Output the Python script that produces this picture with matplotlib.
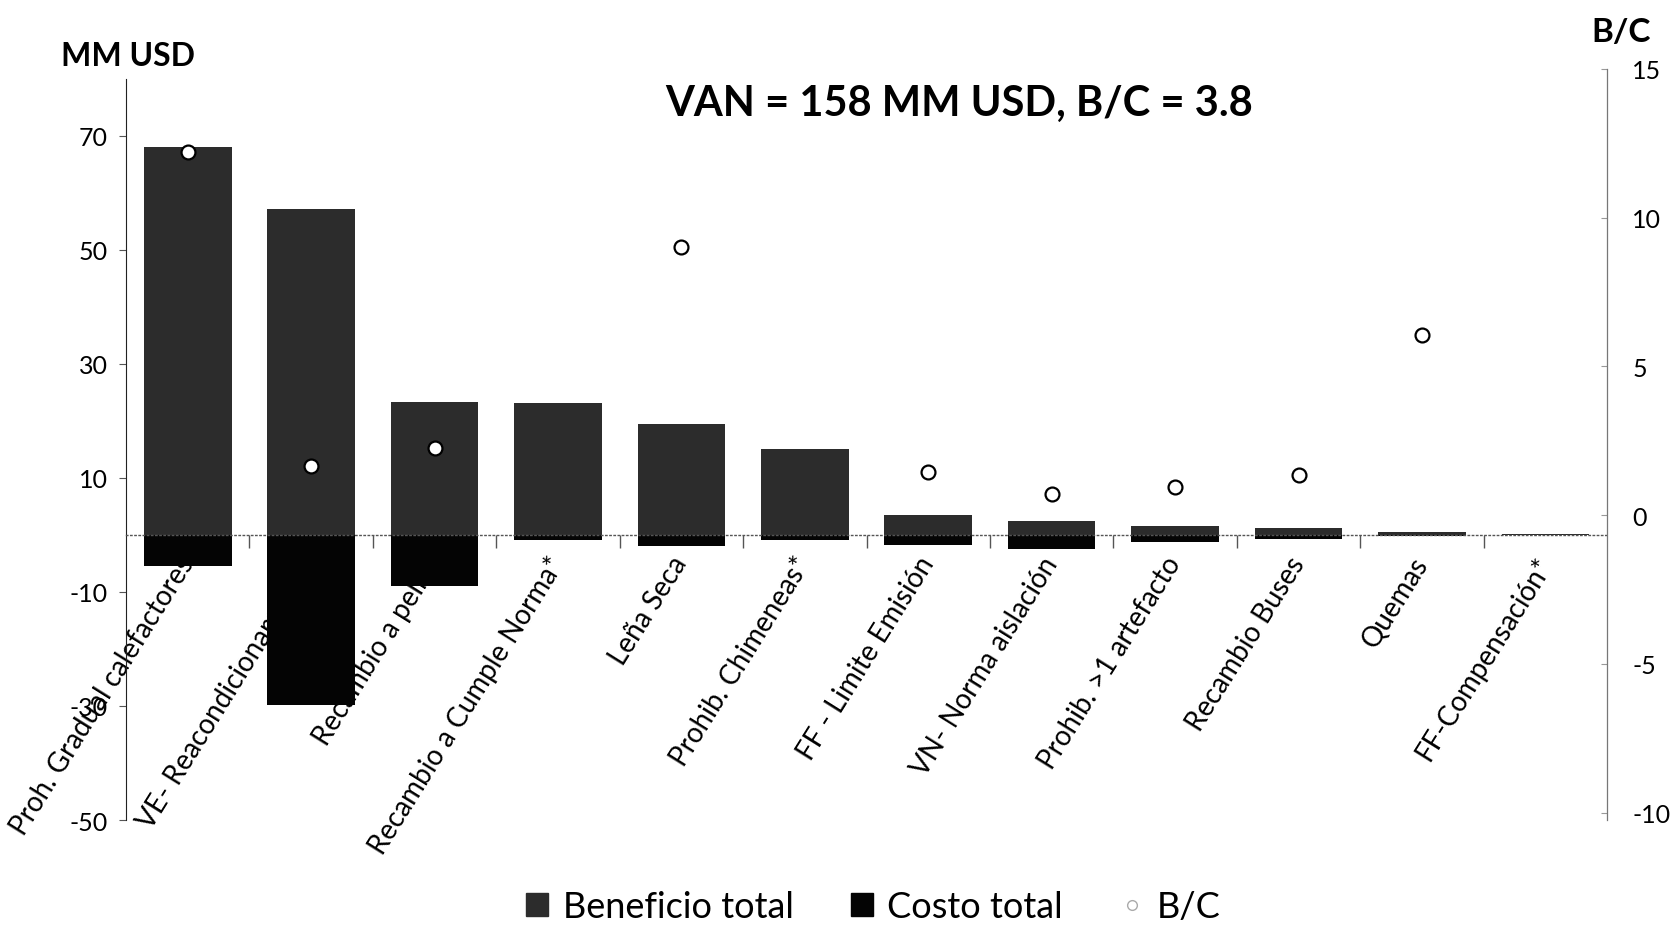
import numpy as np
import matplotlib.pyplot as plt
from matplotlib.patches import Patch
from matplotlib.lines import Line2D

plt.rcParams['font.family'] = ['Lato', 'DejaVu Sans']
plt.rcParams['axes.unicode_minus'] = False

medidas = ['Proh. Gradual calefactores', 'VE- Reacondicionamiento', 'Recambio a pellet',
           'Recambio a Cumple Norma*', 'Leña Seca', 'Prohib. Chimeneas*',
           'FF - Limite Emisión', 'VN- Norma aislación', 'Prohib. >1 artefacto',
           'Recambio Buses', 'Quemas', 'FF-Compensación*']
beneficio = [68.0, 57.1, 23.3, 23.1, 19.5, 15.0, 3.4, 2.4, 1.6, 1.2, 0.5, 0.2]
costo = [-5.4, -29.8, -9.0, -0.9, -2.0, -0.9, -1.8, -2.4, -1.2, -0.8, -0.2, -0.1]
bc = [12.2, 1.65, 2.27, np.nan, 9.0, np.nan, 1.45, 0.7, 0.95, 1.35, 6.05, np.nan]

left_ticks = [-50, -30, -10, 10, 30, 50, 70]
right_ticks = [-10, -5, 0, 5, 10, 15]

col_ben = '#2c2c2c'
col_cost = '#040404'

fig = plt.figure(figsize=(16.8, 9.28), dpi=100)
ax = fig.add_axes([0.075, 0.1153, 0.8816, 0.8094])

x = np.arange(len(medidas))
ax.bar(x, beneficio, width=0.71, color=col_ben, zorder=2)
ax.bar(x, costo, width=0.71, color=col_cost, zorder=2)
ax.set_xlim(-0.5, 11.5)
ax.set_ylim(-50, 81.7)
ax.set_axisbelow(True)

# eje x en cero, punteado, con marcas entre categorias
ax.spines['bottom'].set_position(('data', 0))
ax.spines['bottom'].set_linestyle((0, (1, 2)))
ax.spines['bottom'].set_color('#555555')
ax.spines['bottom'].set_linewidth(1.0)
ax.spines['top'].set_visible(False)
ax.spines['right'].set_visible(False)
ax.spines['left'].set_color('#222222')
ax.spines['left'].set_bounds(-50, 80)

ax.set_xticks(x)
ax.set_xticklabels(medidas, rotation=58, ha='right', va='center',
                   rotation_mode='anchor', fontsize=20)
ax.set_xticks(np.arange(0.5, 11, 1), minor=True)
ax.tick_params(axis='x', which='major', length=0, pad=17)
ax.tick_params(axis='x', which='minor', length=9, direction='out', color='#555555', width=1)

ax.set_yticks(left_ticks)
ax.tick_params(axis='y', length=5, color='#555555', labelsize=18, pad=8)

# eje secundario B/C
ax2 = ax.twinx()
ax2.plot(x, bc, 'o', ms=10, mfc='white', mec='black', mew=1.6, zorder=3)
ax2.set_ylim(-10.25, 15)
ax2.set_yticks(right_ticks)
ax2.tick_params(axis='y', length=4, direction='in', color='#999999', labelsize=18, pad=18)
for s in ['top', 'left', 'bottom']:
    ax2.spines[s].set_visible(False)
ax2.spines['right'].set_color('#777777')
ax2.spines['right'].set_linewidth(0.9)

fig.text(61 / 1680, 1 - 56 / 928, 'MM USD', fontsize=23, fontweight='bold',
         ha='left', va='center')
fig.text(1621 / 1680, 1 - 32 / 928, 'B/C', fontsize=24, fontweight='bold',
         ha='center', va='center')
fig.text(959 / 1680, 1 - 104 / 928, 'VAN = 158 MM USD, B/C = 3.8', fontsize=30,
         fontweight='bold', ha='center', va='center')

handles = [Patch(color=col_ben), Patch(color=col_cost),
           Line2D([], [], marker='o', ls='', ms=7, mfc='white', mec='#aaaaaa', mew=1)]
fig.legend(handles, ['Beneficio total', 'Costo total', 'B/C'], loc='center',
           bbox_to_anchor=(0.52, 0.022), ncol=3, frameon=False, fontsize=26,
           handlelength=0.6, handleheight=0.6, handletextpad=0.4, columnspacing=1.6)

fig.savefig('out.png', dpi=100)
